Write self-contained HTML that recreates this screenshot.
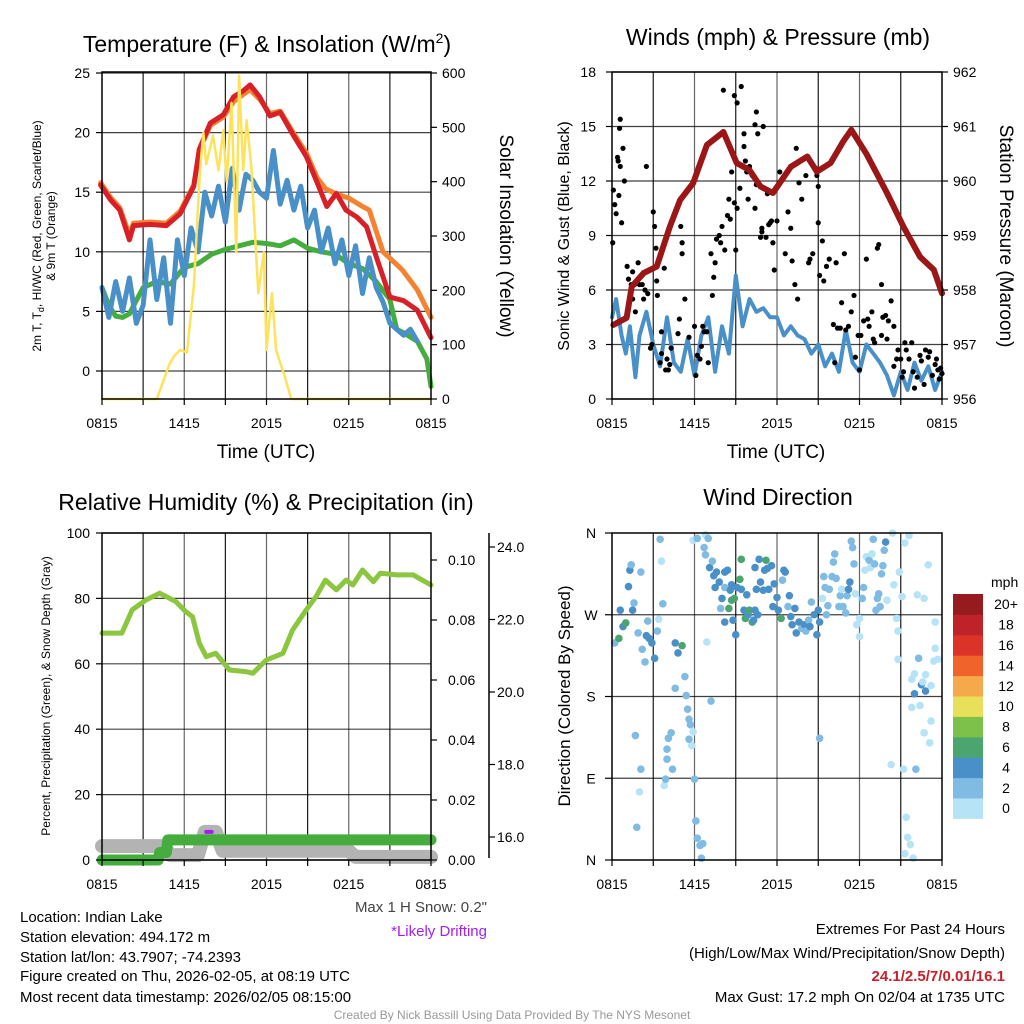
<!DOCTYPE html>
<html><head><meta charset="utf-8">
<style>
html,body{margin:0;padding:0;background:#fff;}
svg{display:block;font-family:"Liberation Sans",Arial,sans-serif;}
</style></head>
<body>
<svg id="root" width="1024" height="1024" viewBox="0 0 1024 1024" xmlns="http://www.w3.org/2000/svg">
<rect width="1024" height="1024" fill="#fff"/>
<g id="layer"></g>
<!-- titles -->
<text x="267" y="52" font-size="23" text-anchor="middle">Temperature (F) &amp; Insolation (W/m<tspan font-size="14" dy="-9">2</tspan><tspan dy="9">)</tspan></text>
<text x="778" y="45" font-size="23" text-anchor="middle">Winds (mph) &amp; Pressure (mb)</text>
<text x="266" y="510" font-size="23" text-anchor="middle">Relative Humidity (%) &amp; Precipitation (in)</text>
<text x="778" y="505" font-size="23" text-anchor="middle">Wind Direction</text>
<!-- axis titles -->
<text x="266" y="458" font-size="19" text-anchor="middle">Time (UTC)</text>
<text x="776" y="458" font-size="19" text-anchor="middle">Time (UTC)</text>
<text transform="translate(41,236) rotate(-90)" font-size="12" text-anchor="middle">2m T, T<tspan font-size="9" dy="3">d</tspan><tspan dy="-3">, HI/WC (Red, Green, Scarlet/Blue)</tspan></text>
<text transform="translate(55,236) rotate(-90)" font-size="12" text-anchor="middle">&amp; 9m T (Orange)</text>
<text transform="translate(500,236) rotate(90)" font-size="19" text-anchor="middle">Solar Insolation (Yellow)</text>
<text transform="translate(569,236) rotate(-90)" font-size="16" text-anchor="middle">Sonic Wind &amp; Gust (Blue, Black)</text>
<text transform="translate(1000,236) rotate(90)" font-size="19" text-anchor="middle">Station Pressure (Maroon)</text>
<text transform="translate(50,696) rotate(-90)" font-size="12" text-anchor="middle">Percent, Precipitation (Green), &amp; Snow Depth (Gray)</text>
<text transform="translate(570,696) rotate(-90)" font-size="17" text-anchor="middle">Direction (Colored By Speed)</text>
<!-- info text -->
<g font-size="15">
<text x="20" y="922">Location: Indian Lake</text>
<text x="20" y="942">Station elevation: 494.172 m</text>
<text x="20" y="962">Station lat/lon: 43.7907; -74.2393</text>
<text x="20" y="981">Figure created on Thu, 2026-02-05, at 08:19 UTC</text>
<text x="20" y="1002">Most recent data timestamp: 2026/02/05 08:15:00</text>
</g>
<text x="487" y="912" font-size="15" fill="#444" text-anchor="end">Max 1 H Snow: 0.2"</text>
<text x="487" y="936" font-size="15" fill="#a020f0" text-anchor="end">*Likely Drifting</text>
<g font-size="15" text-anchor="end">
<text x="1005" y="934">Extremes For Past 24 Hours</text>
<text x="1005" y="958">(High/Low/Max Wind/Precipitation/Snow Depth)</text>
<text x="1005" y="981" fill="#c8202a" font-weight="bold">24.1/2.5/7/0.01/16.1</text>
<text x="1005" y="1002">Max Gust: 17.2 mph On 02/04 at 1735 UTC</text>
</g>
<text x="512" y="1019" font-size="12" fill="#999" text-anchor="middle">Created By Nick Bassill Using Data Provided By The NYS Mesonet</text>
</svg>
<script>
// ===== Temperature chart data =====
const tRed=[-0.1,0.6,1.3,2.0,2.3,3.5,4.7,5.7,6.7,7.1,7.9,8.85,9.6,10.3,10.8,11.5,12.25,13,14,14.9,15.7,16.4,17.1,17.8,18.6,19.3,20,21,22,23,24];
const vRed=[15.6,14.4,13.5,11,12.2,12.3,12.2,13.2,15.5,18.6,20.8,21.5,23,23.5,24,23,21.4,21.7,19.7,18,15.8,13.8,14.9,13.5,12.9,12.1,9.6,6.2,5.9,5.1,2.8];
const tOrange=[-0.1,0.6,1.3,2.0,2.3,3.5,4.7,5.7,6.7,7.1,7.9,8.85,9.6,10.3,10.8,11.5,12.25,13,14,14.9,15.7,16.3,17,18,19,19.5,20.5,21.9,23,24];
const vOrange=[15.8,14.6,13.7,11.4,12.4,12.5,12.4,13.4,15.6,18.5,20.6,21.3,22.6,23.2,23.6,22.8,21.6,21.8,19.9,18.3,16.2,15.3,14.9,14.5,13.8,13.5,10,8.5,6.8,4.5];
const tGreen=[0,0.5,1,1.5,2,3,4,5,5.5,6,7,8,9,10,11,12,13,14,15,16,17,18,19,20,21,21.5,22,23,23.7,24];
const vGreen=[7,5.5,4.6,4.5,4.8,7,7.5,7.3,8,8.7,9,9.8,10.2,10.5,10.8,10.7,10.5,11,10.3,10,9.8,9,8.6,7.5,6,3.5,3.2,2.5,1,-1.3];
const tBlue=[0,0.5,1,1.5,2,2.5,3,3.5,4,4.5,5,5.5,6,6.5,7,7.5,8,8.5,9,9.5,10,10.5,11,11.5,12,12.5,13,13.5,14,14.5,15,15.5,16,16.5,17,17.5,18,18.5,19,19.5,20,20.5,21,21.5,22,22.5,23];
const vBlue=[7,4.5,7.5,5,7.8,4,5.5,11,6,9.5,4,11,8,12,10,15,13,15.5,12.5,17,13.5,16.5,16,15,14.5,18.5,14,16,13.5,15.5,12,13.5,10,12,9,11,8,10.5,6.5,9.5,7,5.8,4,3.5,3,3.5,2.5];
const tSolar=[0,4,4.95,5.3,5.7,6.2,6.7,7.15,7.4,7.6,8.1,8.5,8.85,9.1,9.45,9.8,10,10.3,10.55,10.9,11.4,11.8,12,12.4,12.7,13.35,13.8,24];
const vSolar=[0,0,66,80,90,86,207,421,490,432,485,421,495,400,545,270,595,421,513,426,195,270,90,195,90,40,0,0];
const tempTicks=[0,5,10,15,20,25];
const solarTicks=[0,100,200,300,400,500,600];
const timeLabels=["0815","1415","2015","0215","0815"];

// ===== Wind chart data =====
const tWind=[0,0.3,0.7,1,1.3,1.7,2,2.5,3,3.5,4,4.5,5,5.5,6,6.5,7,7.5,8,8.5,9,9.5,10,10.5,11,11.5,12,12.5,13,13.5,14,14.5,15,15.5,16,16.5,17,17.5,18,18.5,19,19.5,20,20.5,21,21.5,22,22.5,23,23.5,24];
const vWind=[4.5,5.5,3.5,2.5,4,1.2,3.5,4.8,3,1.8,4.5,2,1.5,3.3,1.3,3.5,4.5,1.5,4,2.5,6.8,4,5.5,4.8,5,4.5,4.5,3.5,4,3.5,3.3,2.5,3,1.8,2.5,1.5,3.8,2,1.5,3,2.5,2,1.3,0.2,1.5,0.5,2,1,1.8,0.5,1.5];
const tPres=[0.1,1.06,1.43,2.3,3.25,4.2,4.95,5.9,6.9,8.1,9.07,10,10.8,11.7,13,14.2,14.9,15.9,16.8,17.4,18.5,20,21.2,22.4,23.4,24];
const vPres=[957.36,957.49,958.06,958.31,958.43,959.16,959.65,959.96,960.66,960.9,960.33,960.2,959.9,959.78,960.26,960.45,960.17,960.33,960.72,960.94,960.5,959.78,959.16,958.61,958.37,957.94];
const tGust=[0.05,0.1,0.2,0.3,0.4,0.45,0.55,0.6,0.5,0.6,0.8,0.9,0.7,1.1,1.2,1.4,1.5,1.5,1.65,1.7,1.9,2.0,2.2,2.4,2.5,2.6,2.8,2.9,2.3,3.0,3.1,3.2,3.25,3.4,3.5,3.6,3.6,3.8,3.3,3.9,4.0,4.1,4.2,4.3,4.8,4.9,5.0,5.1,5.1,5.3,5.6,6.0,6.2,6.4,6.1,6.5,6.6,6.7,6.9,7.0,7.2,7.3,7.4,7.5,7.6,7.8,7.9,8.0,8.2,8.1,8.4,8.5,8.6,8.9,8.7,8.9,9.0,9.1,9.3,9.1,9.4,9.6,9.6,9.7,9.8,9.9,10.0,10.2,10.5,10.4,10.6,10.5,10.4,10.8,10.9,10.9,11.0,11.2,11.3,11.4,11.6,11.7,11.5,11.8,12.0,12.2,12.4,12.6,12.8,13.0,13.1,13.3,13.5,13.4,13.6,13.8,14.1,14.3,14.4,14.6,14.8,14.9,15.0,15.0,15.1,15.3,15.4,15.6,15.8,16.1,16.2,16.3,16.4,16.6,16.7,16.9,17.0,17.2,17.4,17.6,17.7,17.9,18.1,18.0,18.3,18.5,18.6,18.7,18.9,19.0,19.1,19.3,19.4,19.6,19.6,19.7,19.9,20.0,20.1,20.3,20.5,20.5,20.7,20.8,21.0,21.1,21.2,21.3,21.4,21.6,21.8,21.9,22.0,22.2,22.4,22.5,22.7,22.8,23.0,23.1,23.3,23.5,23.6,23.7,23.8,24.0,23.9];
const vGust=[8.6,11.5,10.7,10.2,13.3,13.1,14.9,15.4,11.2,12.8,13.8,12.0,9.7,7.3,6.6,6.3,5.5,7.0,6.3,4.8,7.5,6.3,6.3,6.0,12.8,5.8,2.8,3.0,5.5,10.3,9.5,8.3,6.5,7.6,2.0,2.5,3.7,7.2,5.7,1.6,2.2,1.6,1.9,2.8,3.6,4.4,9.5,8.6,8.0,5.5,3.4,4.0,2.4,2.2,1.3,2.9,4.0,3.7,3.7,2.0,8.0,5.7,6.7,7.5,8.8,9.0,8.6,9.5,8.2,17.0,10.1,11.0,9.9,16.7,12.5,10.8,8.2,10.5,11.6,16.3,17.2,13.9,14.6,13.1,12.5,11.0,12.8,12.3,15.8,15.1,14.6,11.8,10.5,8.9,9.2,9.4,15.0,8.9,11.3,9.6,9.8,8.6,9.7,7.1,9.8,12.5,12.1,8.0,10.3,9.4,7.6,6.3,5.5,13.8,11.9,11.0,12.3,7.5,7.7,8.0,12.7,12.3,11.7,9.7,6.8,8.7,6.5,7.3,7.7,4.1,2.0,7.5,3.9,3.9,5.3,8.0,3.8,4.0,4.8,5.7,2.3,3.5,3.5,1.6,4.3,7.7,4.4,4.0,4.8,3.3,3.1,8.3,8.5,6.3,3.5,4.5,4.6,3.3,4.3,5.4,4.0,1.8,2.2,2.7,2.2,1.2,1.5,3.1,2.7,2.2,3.1,1.5,0.6,1.2,2.4,2.1,0.8,2.7,2.3,2.6,1.3,1.9,2.2,1.6,1.1,1.4,1.7];
const windTicks=[0,3,6,9,12,15,18];
const presTicks=[956,957,958,959,960,961,962];

// ===== RH chart data =====
const tRH=[0,1.45,2.2,3.2,4.2,5.4,6.1,6.6,7.1,7.6,8.3,9.3,10.5,11,12,13.2,13.9,14.9,15.6,16.3,17.1,17.8,18.3,19,19.8,20.3,21.5,22.7,24];
const vRH=[69.4,69.4,76.5,79.5,81.6,79,76,74.4,66.3,62.2,63.2,58.1,57.6,57.1,61.2,63.2,70.3,76.5,80.5,85.6,82.6,85.6,84.1,88.7,85.1,87.7,87.2,87.2,84.1];
const tPrecip=[0,4.1,4.2,4.7,4.8,24];
const vPrecip=[0,0,0.0025,0.0025,0.0067,0.0067];
const tSnow=[0,4.5,5,7,7.5,8.3,8.8,18,18.5,24];
const vSnow=[15.75,15.75,15.5,15.5,16.14,16.14,15.62,15.62,15.45,15.45];
const rhTicks=[0,20,40,60,80,100];
const precipTicks=[0,0.02,0.04,0.06,0.08,0.10];
const snowTicks=[16,18,20,22,24];

// ===== Wind direction data =====
const tDir=[0.2,0.5,0.6,0.8,1.0,1.3,1.4,1.2,1.5,1.6,1.7,1.8,2.0,2.1,2.1,1.9,2.2,2.4,2.5,2.6,2.7,2.9,3.1,3.3,3.4,3.5,3.6,3.7,3.8,3.9,4.0,4.1,4.3,4.0,4.4,4.6,4.6,4.8,5.1,5.3,5.4,5.5,5.6,5.7,5.9,5.8,5.6,6.0,6.1,6.2,6.4,6.6,6.5,5.9,6.2,6.8,7.0,6.7,6.8,6.9,7.2,7.1,7.3,7.4,7.5,7.6,7.8,7.9,8.0,8.2,8.2,8.4,8.2,8.5,8.6,8.7,8.8,8.7,8.9,9.0,9.1,9.3,9.4,9.4,9.6,9.7,9.8,9.9,10.0,10.2,10.3,10.4,10.4,10.5,10.6,10.7,10.8,11.0,11.1,11.2,11.3,11.4,11.6,11.7,11.8,12.0,12.1,12.3,12.4,12.5,12.6,12.8,12.9,13.0,13.1,13.3,13.4,13.6,13.8,14.0,14.1,14.3,14.4,14.5,14.7,14.9,15.0,15.1,15.1,15.3,15.4,15.5,15.6,15.7,15.8,16.0,16.1,16.2,16.3,16.5,16.6,16.7,16.8,17.0,17.1,17.2,17.3,17.4,17.5,17.6,17.7,17.8,18.0,18.0,18.2,18.3,18.4,18.5,18.7,18.8,18.9,19.0,19.1,19.2,19.3,19.4,19.5,19.6,19.7,19.8,19.9,20.0,20.3,20.4,20.5,20.7,20.8,20.8,20.9,21.1,21.2,21.3,21.3,21.4,21.5,21.6,21.7,21.8,21.8,21.9,22.0,22.0,22.1,22.2,22.3,22.4,22.5,22.6,22.7,22.7,22.8,22.8,23.0,23.1,23.2,23.2,23.4,23.5,23.5,23.7];
const vDir=[239,244,275,257,261,319,325,301,275,283,137,36,75,100,317,250,232,218,247,263,244,239,222,252,265,353,329,282,82,89,111,134,140,122,100,189,239,228,236,202,181,166,155,149,141,126,133,89,43,24,16,18,2,352,354,358,354,344,336,240,175,322,329,313,300,317,306,277,288,317,262,319,300,277,297,286,264,303,288,248,300,309,331,298,275,266,292,270,275,262,264,275,322,298,270,331,306,297,319,330,321,298,324,279,304,289,275,266,308,319,317,279,291,268,259,277,250,262,255,259,252,264,257,284,270,248,275,134,262,288,312,300,270,280,298,312,328,337,310,279,291,298,279,272,291,298,306,351,344,326,293,259,266,246,288,300,319,334,330,322,337,353,326,275,288,293,279,315,324,341,350,286,105,360,303,266,252,221,317,290,100,349,7,47,25,357,17,199,168,2,183,205,100,292,222,170,193,196,140,288,186,204,325,129,153,192,219,262,233,221];
const sDir=[3,7,5,5,7,5,3,5,5,3,3,3,1,3,3,3,3,3,5,3,5,5,5,3,1,3,1,3,1,3,3,3,3,3,3,3,5,5,7,3,3,3,3,3,1,1,3,3,3,3,3,3,3,1,3,1,3,3,3,1,3,5,3,5,5,5,5,3,5,5,5,5,3,7,5,7,5,5,7,5,5,7,7,5,5,7,5,5,7,7,5,5,5,5,5,5,5,5,5,7,5,5,5,5,5,5,5,7,3,5,5,3,5,5,5,5,5,5,3,5,3,3,5,3,5,5,5,3,5,1,3,3,3,3,3,3,3,3,3,3,3,1,3,3,3,5,5,3,3,3,1,1,1,1,3,3,1,1,3,1,1,3,3,3,3,3,3,3,3,3,5,1,1,1,1,1,1,1,1,1,1,1,1,1,1,1,1,1,1,1,5,1,3,1,3,1,5,1,1,1,5,1,1,1,1,1,1,1,1,1,1,1];
const dirTicks=["N","E","S","W","N"];
const speedBins=["0","2","4","6","8","10","12","14","16","18","20+"];
const binColors=["#b7e3f7","#80bbe3","#4a90c8","#4aa66e","#7dc04a","#e8e05b","#f6a94a","#f0642c","#dc3328","#c0222a","#961b1e"];

// ===== rendering =====
const NS="http://www.w3.org/2000/svg";
const layer=document.getElementById('layer');
function mk(tag,attrs,parent){const e=document.createElementNS(NS,tag);for(const k in attrs)e.setAttribute(k,attrs[k]);(parent||layer).appendChild(e);return e;}
function lin(d0,d1,r0,r1){return v=>r0+(v-d0)*(r1-r0)/(d1-d0);}
function pathD(ts,vs,sx,sy){return ts.map((t,i)=>(i?'L':'M')+sx(t).toFixed(1)+','+sy(vs[i]).toFixed(1)).join('');}

function frame(x0,x1,y0,y1,yGrid,name){
  const g=mk('g',{});
  
  
  for(let k=1;k<8;k++){const x=x0+k*(x1-x0)/8;mk('line',{x1:x,x2:x,y1:y0,y2:y1,stroke:'#000','stroke-opacity':k%2?0.9:0.6,'stroke-width':1.2},g);}
  yGrid.forEach(y=>mk('line',{x1:x0,x2:x1,y1:y,y2:y,stroke:'#000','stroke-opacity':0.75,'stroke-width':1.2},g));
}
function border(x0,x1,y0,y1,name){
  const r=mk('rect',{x:x0,y:y0,width:x1-x0,height:y1-y0,fill:'none',stroke:'#000','stroke-width':1.5});
  
  
}
function xAxis(x0,x1,y1,name){
  for(let k=0;k<=8;k++){const x=x0+k*(x1-x0)/8;mk('line',{x1:x,x2:x,y1:y1,y2:y1+6,stroke:'#000','stroke-width':1.2});}
  timeLabels.forEach((l,i)=>{const tx=mk('text',{x:x0+i*(x1-x0)/4,y:y1+29,'font-size':14,'text-anchor':'middle'});tx.textContent=l;
    
    });
}
function yLabels(ticks,sy,x,anchor,fmt,name,tickX,dir){
  ticks.forEach(v=>{const y=sy(v);const tx=mk('text',{x:x,y:y+5,'font-size':14,'text-anchor':anchor});tx.textContent=fmt(v);
    
    
    if(tickX!==undefined)mk('line',{x1:tickX,x2:tickX+dir*6,y1:y,y2:y,stroke:'#000','stroke-width':1.2});});
}
function line(ts,vs,sx,sy,color,w,name){
  const p=mk('path',{d:pathD(ts,vs,sx,sy),fill:'none',stroke:color,'stroke-width':w,'stroke-linejoin':'round','stroke-linecap':'round'});
  
  
  return p;
}

// Chart 1
{const x0=102,x1=431,y0=72,y1=399;
 const sx=lin(0,24,x0,x1), sy=lin(0,25,371,73), sr=lin(0,600,399,73);
 frame(x0,x1,y0,y1,tempTicks.map(sy),'temperature');
 line(tGreen,vGreen,sx,sy,'#45ad3e',5,'dewpoint-line');
 line(tBlue,vBlue,sx,sy,'#4a90c8',5,'windchill-line');
 line(tOrange,vOrange,sx,sy,'#f58230',5,'temp-9m-line');
 line(tRed,vRed,sx,sy,'#d72027',5,'temp-2m-line');
 line(tSolar,vSolar,sx,sr,'#fde35b',2.5,'solar-line');
 border(x0,x1,y0,y1,'temperature');
 xAxis(x0,x1,y1,'temperature');
 yLabels(tempTicks,sy,90,'end',v=>v,'temp-y',x0,-1);
 yLabels(solarTicks,sr,442,'start',v=>v,'solar-y',x1,1);
}
// Chart 2
{const x0=612,x1=942,y0=72,y1=399;
 const sx=lin(0,24,x0,x1), sy=lin(0,18,399,72), sp=lin(956,962,399,72);
 frame(x0,x1,y0,y1,windTicks.map(sy),'wind');
 line(tWind,vWind,sx,sy,'#4a90c8',4,'sonic-wind-line');
 tGust.forEach((t,i)=>{const c=mk('circle',{cx:sx(t),cy:sy(vGust[i]),r:2.6,fill:'#000'});
   
   });
 line(tPres,vPres,sx,sp,'#9b1616',6,'pressure-line');
 border(x0,x1,y0,y1,'wind');
 xAxis(x0,x1,y1,'wind');
 yLabels(windTicks,sy,596,'end',v=>v,'wind-y',x0,-1);
 yLabels(presTicks,sp,953,'start',v=>v,'pressure-y',x1,1);
}
// Chart 3
{const x0=102,x1=431,y0=533,y1=860;
 const sx=lin(0,24,x0,x1), sy=lin(0,100,860,533), spr=lin(0,0.10,860,560), ss=lin(16,24,837,547);
 frame(x0,x1,y0,y1,rhTicks.map(sy),'humidity');
 line(tSnow,vSnow,sx,ss,'#b3b3b3',14,'snow-depth-line');
 line([7.6,8.0],[16.14,16.14],sx,ss,'#a020f0',4,'drifting-snow-line');
 line(tPrecip,vPrecip,sx,spr,'#45ad3e',11,'precipitation-line');
 line(tRH,vRH,sx,sy,'#8cc63f',5,'humidity-line');
 border(x0,x1,y0,y1,'humidity');
 xAxis(x0,x1,y1,'humidity');
 yLabels(rhTicks,sy,90,'end',v=>v,'rh-y',x0,-1);
 yLabels(precipTicks,spr,448,'start',v=>v.toFixed(2),'precip-y',x1,1);
 mk('line',{x1:489,x2:489,y1:533,y2:858,stroke:'#000','stroke-width':1.5});
 yLabels(snowTicks,ss,497,'start',v=>v.toFixed(1),'snow-y',489,1);
}
// Chart 4
{const x0=612,x1=942,y0=533,y1=860;
 const sx=lin(0,24,x0,x1), sy=lin(0,360,860,533);
 frame(x0,x1,y0,y1,[90,180,270].map(sy),'direction');
 tDir.forEach((t,i)=>{const b=Math.min(10,Math.floor(sDir[i]/2));
   const c=mk('circle',{cx:sx(t),cy:sy(vDir[i]),r:3.8,fill:binColors[b]});
   
   });
 border(x0,x1,y0,y1,'direction');
 for(let k=0;k<=8;k++){const x=x0+k*(x1-x0)/8;mk('line',{x1:x,x2:x,y1:y1,y2:y1+6,stroke:'#000','stroke-width':1.2});}
 timeLabels.forEach((l,i)=>{const tx=mk('text',{x:x0+i*(x1-x0)/4,y:y1+29,'font-size':14,'text-anchor':'middle'});tx.textContent=l;
   
   });
 dirTicks.forEach((l,i)=>{const y=sy(i*90);const tx=mk('text',{x:591,y:y+5,'font-size':14,'text-anchor':'middle'});tx.textContent=l;
   
   
   mk('line',{x1:x0-7,x2:x0,y1:y,y2:y,stroke:'#000','stroke-width':1.2});});
 const lg=mk('g',{});
 
 
 const bh=20.4, top=594;
 speedBins.forEach((l,i)=>{const j=speedBins.length-1-i;const y=top+j*bh;
   mk('rect',{x:953,y:y,width:30,height:bh+0.5,fill:binColors[i]},lg);
   const tx=mk('text',{x:1006,y:y+bh/2+5,'font-size':14,'text-anchor':'middle'},lg);tx.textContent=l;});
 const mt=mk('text',{x:991,y:587,'font-size':14},lg);mt.textContent='mph';
}
</script>
</body></html>
